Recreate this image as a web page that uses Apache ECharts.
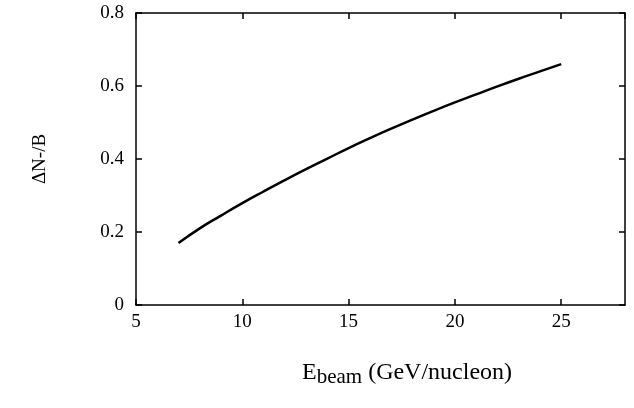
<!DOCTYPE html>
<html>
<head>
<meta charset="utf-8">
<script src="https://cdn.jsdelivr.net/npm/echarts@6/dist/echarts.min.js"></script>
<style>
html,body{margin:0;padding:0;background:#fff;}
#c{width:634px;height:408px;}
</style>
</head>
<body>
<div id="c"></div>
<script>
const eBeam = [7, 8, 9, 10, 11, 12, 13, 14, 15, 16, 17, 18, 19, 20, 21, 22, 23, 24, 25];
const dNB   = [0.170, 0.210, 0.245, 0.279, 0.311, 0.342, 0.372, 0.401, 0.430, 0.457, 0.483, 0.508, 0.532, 0.555, 0.577, 0.599, 0.620, 0.640, 0.660];
const xTicks = [5, 10, 15, 20, 25];
const yTicks = [0, 0.2, 0.4, 0.6, 0.8];

const font = 'Liberation Serif';
const chart = echarts.init(document.getElementById('c'));
const axisLineStyle = {color: '#000', width: 1.5};
const tickStyle = {show: true, inside: true, length: 6, lineStyle: {color: '#000', width: 1.5}};
chart.setOption({
  animation: false,
  backgroundColor: '#fff',
  grid: {left: 136, right: 9, top: 13, bottom: 103, containLabel: false},
  xAxis: [{
    type: 'value', min: 5, max: 28, interval: 5,
    axisLine: {show: true, onZero: false, lineStyle: axisLineStyle},
    axisTick: tickStyle,
    axisLabel: {color: '#000', fontFamily: font, fontSize: 19, margin: 8, showMaxLabel: false,
      formatter: v => xTicks.includes(v) ? String(v) : ''},
    splitLine: {show: false}
  }, {
    type: 'value', min: 5, max: 28, interval: 5, position: 'top',
    axisLine: {show: true, onZero: false, lineStyle: axisLineStyle},
    axisTick: tickStyle,
    axisLabel: {show: false},
    splitLine: {show: false}
  }],
  yAxis: [{
    type: 'value', min: 0, max: 0.8, interval: 0.2,
    axisLine: {show: true, onZero: false, lineStyle: axisLineStyle},
    axisTick: tickStyle,
    axisLabel: {color: '#000', fontFamily: font, fontSize: 19, margin: 12,
      formatter: v => { const t = yTicks.find(y => Math.abs(y - v) < 1e-9); return t === undefined ? '' : String(t); }},
    splitLine: {show: false},
    name: 'ΔN-/B', nameLocation: 'middle', nameGap: 86, nameRotate: 90,
    nameTextStyle: {color: '#000', fontFamily: font, fontSize: 19}
  }, {
    type: 'value', min: 0, max: 0.8, interval: 0.2, position: 'right',
    axisLine: {show: true, onZero: false, lineStyle: axisLineStyle},
    axisTick: tickStyle,
    axisLabel: {show: false},
    splitLine: {show: false}
  }],
  graphic: [{
    type: 'text', left: 302, top: 361,
    style: {
      text: '{e|E}{s|beam}{n| (GeV/nucleon)}',
      rich: {
        e: {fontFamily: font, fontSize: 24, color: '#000', verticalAlign: 'top', lineHeight: 24},
        s: {fontFamily: font, fontSize: 21, color: '#000', verticalAlign: 'bottom', lineHeight: 27},
        n: {fontFamily: font, fontSize: 24, color: '#000', verticalAlign: 'top', lineHeight: 24}
      }
    }
  }],
  series: [{
    type: 'line', xAxisIndex: 0, yAxisIndex: 0,
    data: eBeam.map((x, i) => [x, dNB[i]]),
    smooth: true, showSymbol: false,
    lineStyle: {color: '#000', width: 2.5}
  }]
});
</script>
</body>
</html>
